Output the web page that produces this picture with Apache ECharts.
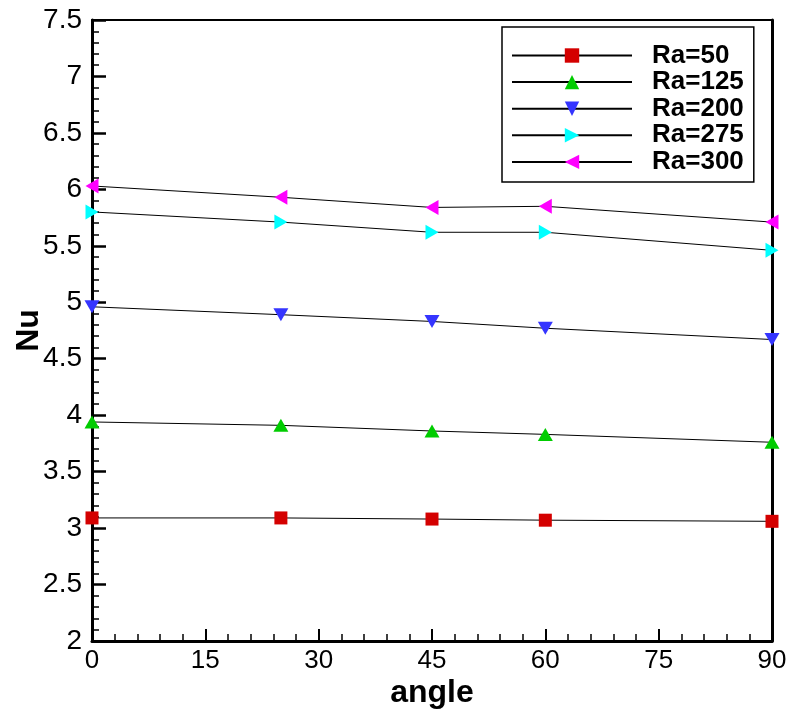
<!DOCTYPE html>
<html>
<head>
<meta charset="utf-8">
<script src="https://cdn.jsdelivr.net/npm/echarts@6/dist/echarts.min.js"></script>
<style>html,body{margin:0;padding:0;background:#fff}#c{width:792px;height:713px}</style>
</head>
<body>
<div id="c"></div>
<script>
const angles = [0, 25, 45, 60, 90];
const ra50  = [3.09, 3.09, 3.08, 3.07, 3.06];
const ra125 = [3.94, 3.91, 3.86, 3.83, 3.76];
const ra200 = [4.96, 4.89, 4.83, 4.77, 4.67];
const ra275 = [5.80, 5.71, 5.62, 5.62, 5.46];
const ra300 = [6.03, 5.93, 5.84, 5.85, 5.71];
const seriesNames = ['Ra=50', 'Ra=125', 'Ra=200', 'Ra=275', 'Ra=300'];
const seriesValues = [ra50, ra125, ra200, ra275, ra300];
const colors = ['#d40000', '#00cc00', '#3535ff', '#00ffff', '#ff00ff'];
const symbols = ['rect', 'triangle', 'triangle', 'triangle', 'triangle'];
const rotates = [0, 0, 180, -90, 90];
const sizes = [[13, 13], [15, 13], [15, 13], [15, 13], [15, 13]];

const chart = echarts.init(document.getElementById('c'), null, {renderer: 'canvas'});
const FONT = '"Liberation Sans", Arial, sans-serif';

const series = seriesNames.map((n, i) => ({
  name: n,
  type: 'line',
  xAxisIndex: 0,
  yAxisIndex: 0,
  data: angles.map((a, j) => [a, seriesValues[i][j]]),
  symbol: symbols[i],
  symbolRotate: rotates[i],
  symbolSize: sizes[i],
  showAllSymbol: true,
  clip: false,
  itemStyle: {color: colors[i]},
  lineStyle: {color: '#000', width: 1},
  z: 2
}));

chart.setOption({
  animation: false,
  backgroundColor: '#fff',
  grid: {left: 92, right: 20, top: 20, bottom: 72, containLabel: false, outerBoundsMode: 'none'},
  legend: {
    orient: 'vertical',
    left: 502,
    top: 27,
    padding: [15.5, 10, 7, 9],
    itemWidth: 120,
    itemHeight: 18,
    itemGap: 0.6,
    borderColor: '#000',
    borderWidth: 1.5,
    backgroundColor: '#fff',
    textStyle: {fontFamily: FONT, fontWeight: 'bold', fontSize: 26, color: '#000', padding: [0, 0, 0, 15]},
    data: seriesNames
  },
  xAxis: [{
    type: 'value', min: 0, max: 90, interval: 15,
    name: 'angle', nameLocation: 'middle', nameGap: 36, nameMoveOverlap: false,
    nameTextStyle: {fontFamily: FONT, fontWeight: 'bold', fontSize: 32, color: '#000'},
    axisLine: {show: true, lineStyle: {color: '#000', width: 3}},
    axisTick: {show: true, inside: true, length: 12, lineStyle: {color: '#000', width: 2}},
    minorTick: {show: true, splitNumber: 5, length: 7, lineStyle: {color: '#000', width: 1.5}},
    axisLabel: {fontFamily: FONT, fontSize: 26, color: '#000', margin: 7},
    splitLine: {show: false}
  }, {
    type: 'value', min: 0, max: 90, position: 'top',
    axisLine: {show: true, onZero: false, lineStyle: {color: '#000', width: 2}},
    axisTick: {show: false}, axisLabel: {show: false}, splitLine: {show: false}
  }],
  yAxis: [{
    type: 'value', min: 2, max: 7.5, interval: 0.5,
    name: 'Nu', nameLocation: 'middle', nameGap: 47, nameMoveOverlap: false,
    nameTextStyle: {fontFamily: FONT, fontWeight: 'bold', fontSize: 32, color: '#000'},
    axisLine: {show: true, lineStyle: {color: '#000', width: 3}},
    axisTick: {show: true, inside: true, length: 14, lineStyle: {color: '#000', width: 2.5}},
    minorTick: {show: true, splitNumber: 5, length: 7, lineStyle: {color: '#000', width: 1.5}},
    axisLabel: {fontFamily: FONT, fontSize: 28, color: '#000', margin: 10},
    splitLine: {show: false}
  }, {
    type: 'value', min: 2, max: 7.5, position: 'right',
    axisLine: {show: true, onZero: false, lineStyle: {color: '#000', width: 3}},
    axisTick: {show: false}, axisLabel: {show: false}, splitLine: {show: false}
  }],
  series: series
});
</script>
</body>
</html>
